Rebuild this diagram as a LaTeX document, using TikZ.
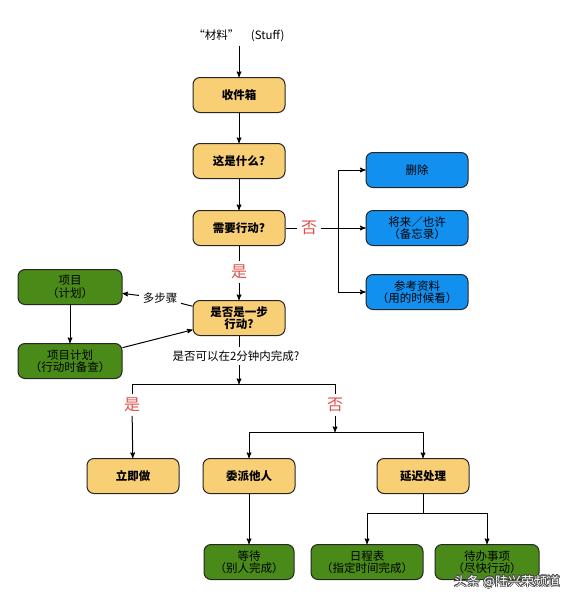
\documentclass[tikz,border=0pt]{standalone}
\usepackage{fontspec}
\setmainfont{Noto Sans CJK SC}
\usepackage{contour}
\usetikzlibrary{arrows,shapes}

\definecolor{boxyellow}{HTML}{F9CF76}
\definecolor{boxblue}{HTML}{1290F0}
\definecolor{boxgreen}{HTML}{4A8A18}
\definecolor{answred}{HTML}{E0504A}

\begin{document}
\begin{tikzpicture}[x=1pt,y=1pt,->,>=stealth',line width=1pt,
                    every node/.style={font=\fontsize{11.5}{12.5}\selectfont,align=center},
                    box/.style={draw=black!85,rounded corners=7pt,minimum height=35pt,inner sep=2pt},
                    yel/.style={box,fill=boxyellow,minimum width=92pt,font=\fontsize{11.5}{12.5}\selectfont\bfseries},
                    blu/.style={box,fill=boxblue,minimum width=102pt},
                    grn/.style={box,fill=boxgreen,minimum width=104pt},
                    answ/.style={text=answred,font=\fontsize{16}{17}\selectfont}]

  \useasboundingbox (0,0) rectangle (573,-602);

  \node                (stuff)   at (239,-36)                  {“材料”\quad(Stuff)};
  \node[yel]           (inbox)   [below of=stuff,node distance=59pt] {收件箱};
  \node[yel]           (what)    [below of=inbox,node distance=66pt] {这是什么?};
  \node[yel]           (act)     [below of=what,node distance=67pt]  {需要行动?};
  \node[answ]          (no1)     [right of=act,node distance=70pt]   {否};
  \node[blu]           (later)   [right of=act,node distance=178pt]  {将来／也许\\（备忘录）};
  \node[blu]           (trash)   [above of=later,node distance=58pt] {删除};
  \node[blu]           (ref)     [below of=later,node distance=64pt] {参考资料\\（用的时候看）};
  \node[answ]          (yes1)    [below of=act,node distance=44pt]   {是};
  \node[yel]           (onestep) [below of=act,node distance=90pt]   {是否是一步\\行动?};
  \node                (multi)   at (160,-298)                 {多步骤};
  \node[grn]           (project) at (70,-287)                  {项目\\（计划）};
  \node[grn]           (plans)   [below of=project,node distance=74pt] {项目计划\\（行动时备查）};
  \node                (twomin)  at (236,-356)                 {是否可以在2分钟内完成?};
  \node[answ]          (yes2)    at (132,-405)                 {是};
  \node[answ]          (no2)     at (335,-405)                 {否};
  \node[yel]           (doit)    at (133,-476)                 {立即做};
  \node[yel]           (deleg)   at (249,-476)                 {委派他人};
  \node[yel]           (defer)   at (423,-476)                 {延迟处理};
  \node[grn,minimum width=90pt]  (wait)  [below of=deleg,node distance=86pt] {等待\\（别人完成）};
  \node[grn,minimum width=112pt] (cal)   at (367,-562)         {日程表\\（指定时间完成）};
  \node[grn]           (next)    at (487,-562)                 {待办事项\\（尽快行动）};
  \node[text=white,font=\fontsize{13}{14}\selectfont] (mark) at (507,-582) {\contourlength{0.5pt}\contour{black!70}{头条 @陆兴荣频道}};

  \coordinate (fork1) at (338,-228);
  \coordinate (fork2) at (239,-384);
  \coordinate (fork3) at (335,-432);
  \coordinate (fork4) at (423,-513);

  \path (stuff)   edge (inbox)
        (inbox)   edge (what)
        (what)    edge (act)
        (yes1)    edge (onestep)
        (multi)   edge (project)
        (project) edge (plans)
        (plans)   edge (onestep)
        (yes2)    edge (doit)
        (no2)     edge (fork3)
        (deleg)   edge (wait)
        (fork1)   edge (later);

  \draw[-] (act) -- (no1) -- (fork1);
  \draw[->] (fork1) |- (trash);
  \draw[->] (fork1) |- (ref);
  \draw[-] (act) -- (yes1);
  \draw[-] (onestep) -- (multi);
  \draw[-] (onestep.south) -- (onestep.south |- twomin.north);
  \draw[->] (onestep.south |- twomin.south) -- (fork2);
  \draw[-] (fork2) -| (yes2);
  \draw[-] (fork2) -| (no2);
  \draw[->] (fork3) -| (deleg);
  \draw[->] (fork3) -| (defer);
  \draw[-] (defer) -- (fork4);
  \draw[->] (fork4) -| (cal);
  \draw[->] (fork4) -| (next);
\end{tikzpicture}
\end{document}
